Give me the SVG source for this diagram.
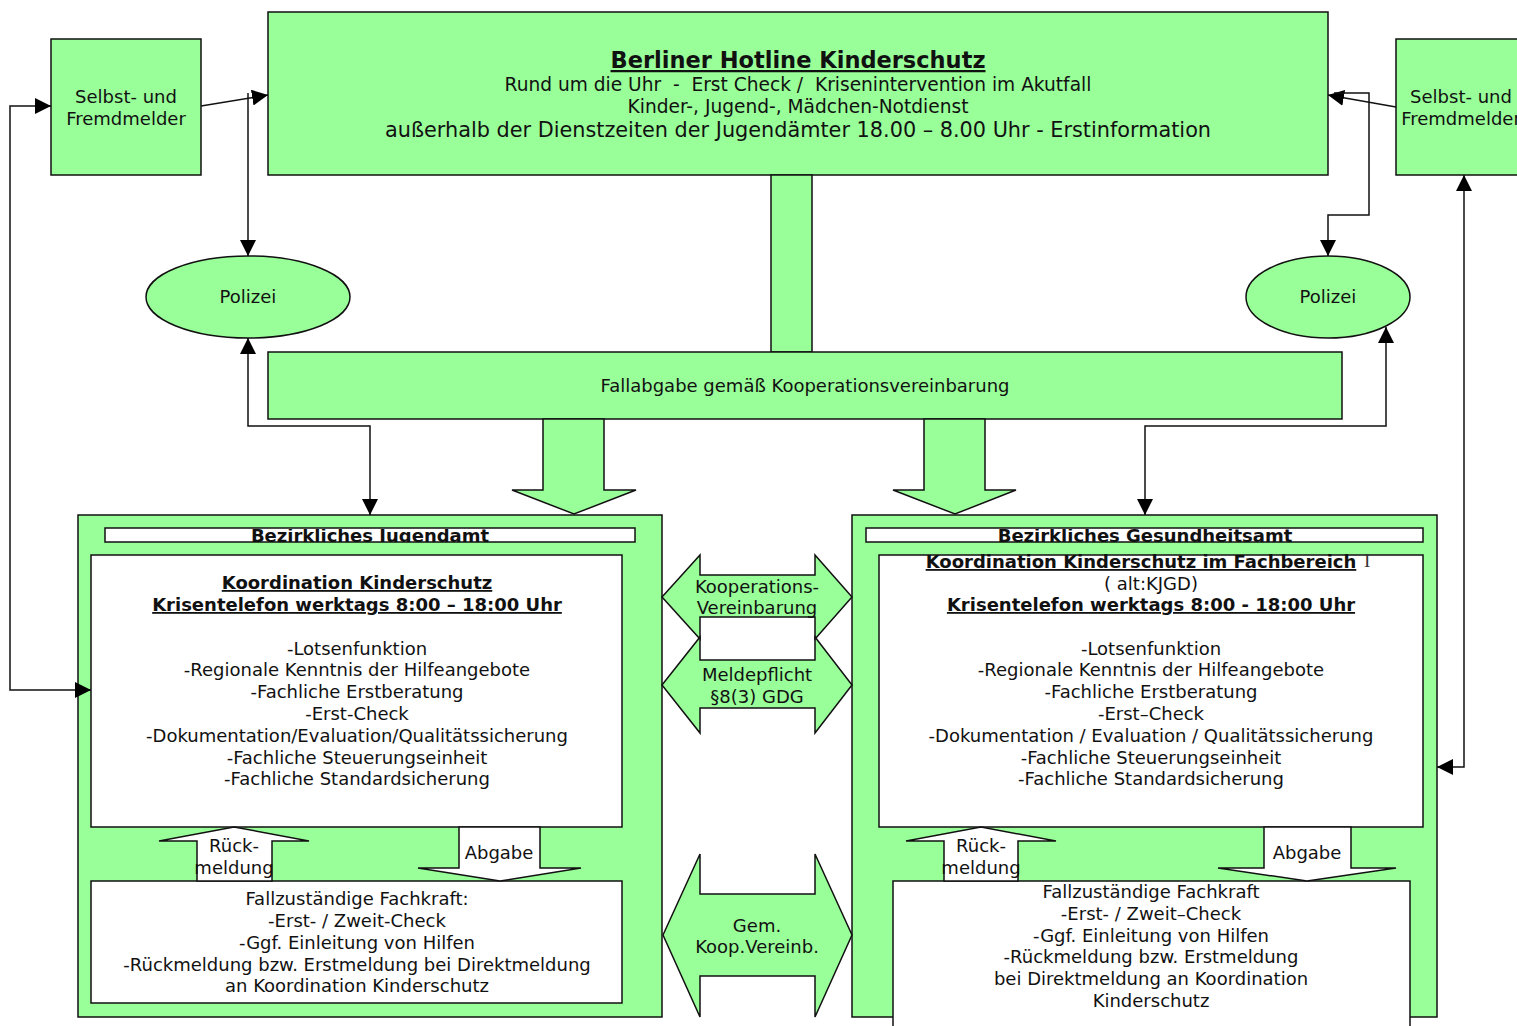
<svg xmlns="http://www.w3.org/2000/svg" width="1517" height="1026" viewBox="0 0 1517 1026">
<style>
.g{fill:#99ff99;stroke:#111;stroke-width:1.5}
.w{fill:#fff;stroke:#111;stroke-width:1.5}
.t{font-family:"DejaVu Sans","Liberation Sans",sans-serif;font-size:18px;fill:#111;text-anchor:middle}
.b{font-weight:bold;text-decoration:underline}
.c{fill:none;stroke:#111;stroke-width:1.5}
</style>
<defs>
<marker id="ah" viewBox="0 0 16 16" refX="16" refY="8" markerWidth="16" markerHeight="16" markerUnits="userSpaceOnUse" orient="auto-start-reverse">
<path d="M0,0 L16,8 L0,16 z" fill="#000"/>
</marker>
<clipPath id="cl1"><rect x="105" y="529" width="530" height="13"/></clipPath>
<clipPath id="cl2"><rect x="866" y="529" width="557" height="13"/></clipPath>
</defs>

<g id="hotline">
<rect class="g" x="268" y="12" width="1060" height="163"/>
<text class="t b" x="798" y="68" style="font-size:22.5px">Berliner Hotline Kinderschutz</text>
<text class="t" x="798" y="91" xml:space="preserve" style="font-size:18.6px">Rund um die Uhr  -  Erst Check /  Krisenintervention im Akutfall</text>
<text class="t" x="798" y="113" style="font-size:18.6px">Kinder-, Jugend-, Mädchen-Notdienst</text>
<text class="t" x="798" y="137" style="font-size:20.8px">außerhalb der Dienstzeiten der Jugendämter 18.00 – 8.00 Uhr - Erstinformation</text>
</g>

<g id="bar"><rect class="g" x="771" y="175" width="41" height="177"/></g>

<g id="melder-left">
<rect class="g" x="51" y="39" width="150" height="136"/>
<text class="t" x="126" y="103">Selbst- und</text>
<text class="t" x="126" y="125">Fremdmelder</text>
</g>
<g id="melder-right">
<rect class="g" x="1396" y="39" width="150" height="136"/>
<text class="t" x="1461" y="103">Selbst- und</text>
<text class="t" x="1461" y="125">Fremdmelder</text>
</g>

<g id="polizei-left">
<ellipse class="g" cx="248" cy="297" rx="102" ry="41"/>
<text class="t" x="248" y="303">Polizei</text>
</g>
<g id="polizei-right">
<ellipse class="g" cx="1328" cy="297" rx="82" ry="41"/>
<text class="t" x="1328" y="303">Polizei</text>
</g>

<g id="fallabgabe">
<rect class="g" x="268" y="352" width="1074" height="67"/>
<text class="t" x="805" y="392">Fallabgabe gemäß Kooperationsvereinbarung</text>
</g>

<g id="down-arrows">
<polygon class="g" points="543,419 604,419 604,490 636,490 574,514 512,490 543,490"/>
<polygon class="g" points="924,419 985,419 985,490 1016,490 955,514 893,490 924,490"/>
</g>

<g id="jugendamt">
<rect class="g" x="78" y="515" width="584" height="502"/>
<rect class="w" x="105" y="528" width="530" height="14"/>
<text class="t" x="370" y="542" clip-path="url(#cl1)" style="font-weight:bold">Bezirkliches Jugendamt</text>
<rect class="w" x="91" y="555" width="531" height="272"/>
<text class="t b" x="357" y="589">Koordination Kinderschutz</text>
<text class="t b" x="357" y="611">Krisentelefon werktags 8:00 – 18:00 Uhr</text>
<text class="t" x="357" y="655">-Lotsenfunktion</text>
<text class="t" x="357" y="676">-Regionale Kenntnis der Hilfeangebote</text>
<text class="t" x="357" y="698">-Fachliche Erstberatung</text>
<text class="t" x="357" y="720">-Erst-Check</text>
<text class="t" x="357" y="742">-Dokumentation/Evaluation/Qualitätssicherung</text>
<text class="t" x="357" y="764">-Fachliche Steuerungseinheit</text>
<text class="t" x="357" y="785">-Fachliche Standardsicherung</text>
<rect class="w" x="91" y="881" width="531" height="122"/>
<text class="t" x="357" y="905">Fallzuständige Fachkraft:</text>
<text class="t" x="357" y="927">-Erst- / Zweit-Check</text>
<text class="t" x="357" y="949">-Ggf. Einleitung von Hilfen</text>
<text class="t" x="357" y="971">-Rückmeldung bzw. Erstmeldung bei Direktmeldung</text>
<text class="t" x="357" y="992">an Koordination Kinderschutz</text>
<polygon class="w" points="197,881 197,841 159,841 234,827 309,841 272,841 272,881"/>
<text class="t" x="234" y="852">Rück-</text>
<text class="t" x="234" y="874">meldung</text>
<polygon class="w" points="459,827 540,827 540,868 581,868 500,881 418,868 459,868"/>
<text class="t" x="499" y="859">Abgabe</text>
</g>

<g id="gesundheitsamt">
<rect class="g" x="852" y="515" width="585" height="502"/>
<rect class="w" x="866" y="528" width="557" height="14"/>
<text class="t" x="1145" y="542" clip-path="url(#cl2)" style="font-weight:bold">Bezirkliches Gesundheitsamt</text>
<rect class="w" x="879" y="555" width="544" height="272"/>
<text class="t b" x="1141" y="568">Koordination Kinderschutz im Fachbereich</text>
<text x="1364" y="567" style="font-family:'Liberation Serif',serif;font-size:19px;fill:#333">I</text>
<text class="t" x="1151" y="590">( alt:KJGD)</text>
<text class="t b" x="1151" y="611">Krisentelefon werktags 8:00 - 18:00 Uhr</text>
<text class="t" x="1151" y="655">-Lotsenfunktion</text>
<text class="t" x="1151" y="676">-Regionale Kenntnis der Hilfeangebote</text>
<text class="t" x="1151" y="698">-Fachliche Erstberatung</text>
<text class="t" x="1151" y="720">-Erst–Check</text>
<text class="t" x="1151" y="742">-Dokumentation / Evaluation / Qualitätssicherung</text>
<text class="t" x="1151" y="764">-Fachliche Steuerungseinheit</text>
<text class="t" x="1151" y="785">-Fachliche Standardsicherung</text>
<rect class="w" x="893" y="881" width="517" height="160"/>
<text class="t" x="1151" y="898">Fallzuständige Fachkraft</text>
<text class="t" x="1151" y="920">-Erst- / Zweit–Check</text>
<text class="t" x="1151" y="942">-Ggf. Einleitung von Hilfen</text>
<text class="t" x="1151" y="963">-Rückmeldung bzw. Erstmeldung</text>
<text class="t" x="1151" y="985">bei Direktmeldung an Koordination</text>
<text class="t" x="1151" y="1007">Kinderschutz</text>
<polygon class="w" points="944,881 944,841 906,841 981,827 1056,841 1018,841 1018,881"/>
<text class="t" x="981" y="852">Rück-</text>
<text class="t" x="981" y="874">meldung</text>
<polygon class="w" points="1264,827 1351,827 1351,868 1396,868 1307,881 1218,868 1264,868"/>
<text class="t" x="1307" y="859">Abgabe</text>
</g>

<g id="koop-arrows">
<polygon class="g" points="662,597 700,555 700,575 815,575 815,555 852,597 815,639 815,617 700,617 700,639"/>
<text class="t" x="757" y="593">Kooperations-</text>
<text class="t" x="757" y="614">Vereinbarung</text>
<polygon class="g" points="662,685 700,637 700,660 815,660 815,637 852,685 815,733 815,708 700,708 700,733"/>
<text class="t" x="757" y="681">Meldepflicht</text>
<text class="t" x="757" y="703">§8(3) GDG</text>
<polygon class="g" points="663,935 700,854 700,894 815,894 815,854 852,935 815,1017 815,976 700,976 700,1017"/>
<text class="t" x="757" y="932">Gem.</text>
<text class="t" x="757" y="953">Koop.Vereinb.</text>
</g>

<g id="connectors">
<path class="c" d="M201,106 L268,95" marker-end="url(#ah)"/>
<path class="c" d="M248,93 L248,256" marker-end="url(#ah)"/>
<path class="c" d="M51,106 L10,106 L10,690 L91,690" marker-start="url(#ah)" marker-end="url(#ah)"/>
<path class="c" d="M248,338 L248,426 L370,426 L370,515" marker-start="url(#ah)" marker-end="url(#ah)"/>
<path class="c" d="M1396,107 L1328,95" marker-end="url(#ah)"/>
<path class="c" d="M1334,93 L1369,93 L1369,215 L1328,215 L1328,256" marker-end="url(#ah)"/>
<path class="c" d="M1145,515 L1145,426 L1386,426 L1386,327" marker-start="url(#ah)" marker-end="url(#ah)"/>
<path class="c" d="M1464,175 L1464,767 L1437,767" marker-start="url(#ah)" marker-end="url(#ah)"/>
</g>
</svg>
